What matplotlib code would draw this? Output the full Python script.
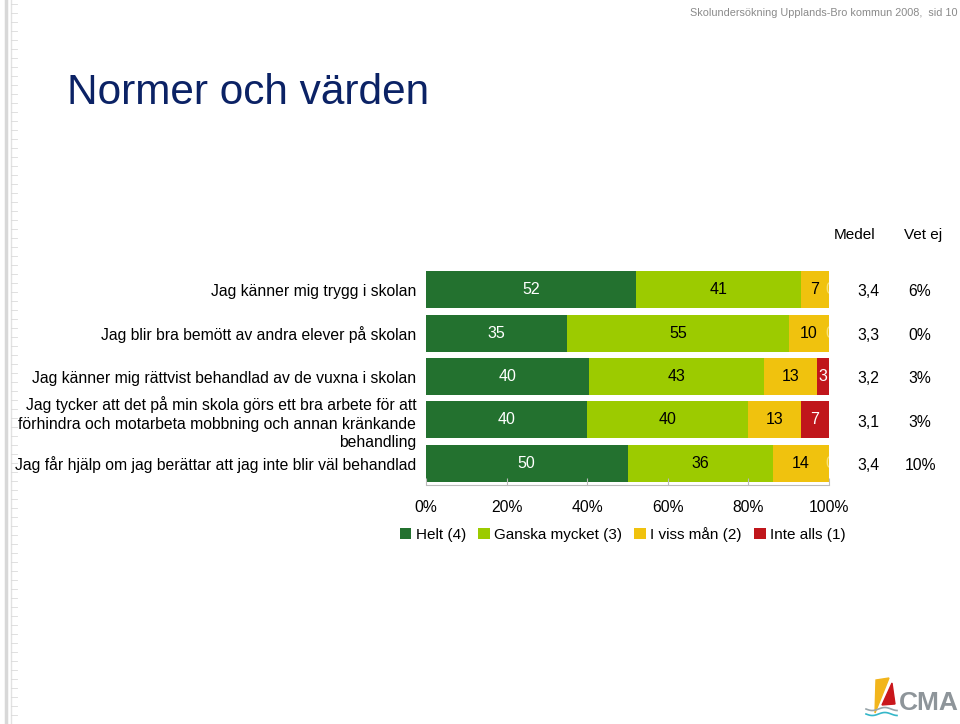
import matplotlib
matplotlib.use("Agg")
import matplotlib.pyplot as plt
import matplotlib.transforms as mtransforms
import numpy as np
from matplotlib.patches import Polygon

plt.rcParams['font.family'] = ['Liberation Sans', 'DejaVu Sans']

# --- data ---
questions = [
    "Jag känner mig trygg i skolan",
    "Jag blir bra bemött av andra elever på skolan",
    "Jag känner mig rättvist behandlad av de vuxna i skolan",
    "Jag tycker att det på min skola görs ett bra arbete för att\n"
    "förhindra och motarbeta mobbning och annan kränkande\nbehandling",
    "Jag får hjälp om jag berättar att jag inte blir väl behandlad",
]
helt = [52, 35, 40, 40, 50]
ganska = [41, 55, 43, 40, 36]
viss = [7, 10, 13, 13, 14]
inte = [0, 0, 3, 7, 0]
medel = ["3,4", "3,3", "3,2", "3,1", "3,4"]
vet_ej = ["6%", "0%", "3%", "3%", "10%"]
series_names = ["Helt (4)", "Ganska mycket (3)", "I viss mån (2)", "Inte alls (1)"]
colors = ["#23712F", "#9CCB00", "#F0C20E", "#C0161B"]
text_colors = ["white", "black", "black", "white"]

fig = plt.figure(figsize=(9.6, 7.24), dpi=100)
ax = fig.add_axes([426 / 960, 1 - 485 / 724, 403 / 960, 217 / 724])

vals = np.array([helt, ganska, viss, inte], dtype=float)
shares = vals / vals.sum(axis=0) * 100  # rows drawn to fill 100 %
y = np.arange(len(questions))
left = np.zeros(len(questions))
for k in range(4):
    ax.barh(y, shares[k], left=left, height=0.85, color=colors[k], label=series_names[k])
    for i in range(len(questions)):
        v = int(vals[k, i])
        if v > 0:
            ax.text(left[i] + shares[k, i] / 2, y[i], str(v), ha="center", va="center",
                    fontsize=11.5, color=text_colors[k])
        elif k == 3:
            # zero label sticking out at the bar end, clipped by the axes
            ax.text(left[i] - 1.0, y[i], "0", ha="left", va="center",
                    fontsize=11.5, color="#F8E27A", clip_on=True)
    left += shares[k]

ax.set_xlim(0, 100)
ax.set_ylim(len(questions) - 0.5, -0.5)
ax.set_yticks(y)
ax.set_yticklabels(questions, fontsize=11.3, linespacing=1.3)
ax.tick_params(axis="y", length=0, pad=7)
ax.set_xticks(np.arange(0, 101, 20))
ax.set_xticklabels([f"{t}%" for t in range(0, 101, 20)], fontsize=11.3)
ax.tick_params(axis="x", length=5, color="#BBBBBB", pad=11, direction="in")
for s in ["top", "right", "left"]:
    ax.spines[s].set_visible(False)
ax.spines["bottom"].set_color("#BBBBBB")

# Medel / Vet ej columns
fig.text(855 / 960, 1 - 235 / 724, "Medel", ha="center", va="center", fontsize=11)
fig.text(923 / 960, 1 - 235 / 724, "Vet ej", ha="center", va="center", fontsize=11)
col_tr = mtransforms.blended_transform_factory(fig.transFigure, ax.transData)
for i in range(len(questions)):
    ax.text(868 / 960, y[i] + 0.05, medel[i], transform=col_tr,
            ha="center", va="center", fontsize=11.3)
    ax.text(920 / 960, y[i] + 0.05, vet_ej[i], transform=col_tr,
            ha="center", va="center", fontsize=11.3)

leg = ax.legend(loc="upper center", bbox_to_anchor=(0.488, -0.165), ncol=4, frameon=False,
                fontsize=11, handlelength=0.75, handleheight=0.75, handletextpad=0.3,
                columnspacing=0.8, borderaxespad=0)

# page decoration
fig.text(67 / 960, 1 - 93 / 724, "Normer och värden", ha="left", va="center",
         fontsize=30.5, color="#0B2265")
fig.text(957 / 960, 1 - 13 / 724, "Skolundersökning Upplands-Bro kommun 2008,  sid 10",
         ha="right", va="center", fontsize=7.8, color="#8A8A8A",
         family=["Liberation Sans Narrow", "Liberation Sans", "DejaVu Sans"])

# ruler strip on the left edge
deco = fig.add_axes([0, 0, 1, 1], facecolor="none")
deco.set_xlim(0, 960)
deco.set_ylim(724, 0)
deco.axis("off")
deco.plot([6, 6], [0, 724], color="#D8D8D8", lw=2.5)
deco.plot([11, 11], [0, 724], color="#E2E2E2", lw=1)
for yy in np.arange(4, 724, 9):
    deco.plot([11, 17], [yy, yy], color="#DADADA", lw=0.6)

# logo
deco.add_patch(Polygon([[876, 680], [889, 678], [875, 713]], closed=True, color="#F2B51C"))
deco.add_patch(Polygon([[882, 705], [892, 683], [895, 704]], closed=True, color="#C9161B"))
xs = np.linspace(866, 897, 40)
deco.plot(xs, 709 + 1.5 * np.sin((xs - 866) / 4), color="#9AA5AA", lw=1.2)
deco.plot(xs, 714 + 1.5 * np.sin((xs - 866) / 4), color="#35B7C9", lw=1.2)
deco.text(899, 703, "CMA", ha="left", va="center", fontsize=19, fontweight="bold",
          color="#8E959A")

fig.savefig("out.png", dpi=100)
